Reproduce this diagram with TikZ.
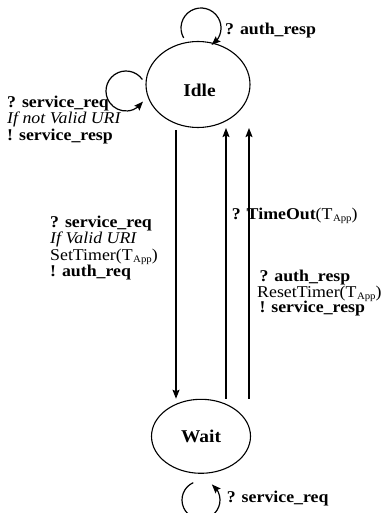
\documentclass[tikz,border=0pt]{standalone}
\usepackage{fontspec}
\setmainfont{Liberation Serif}[FakeStretch=1.08]
\usetikzlibrary{arrows.meta,bending,shapes.geometric}
\newcommand\appsub[1]{\kern0.5pt\raisebox{-2pt}{\fontsize{10}{10}\selectfont #1}}
\begin{document}
\begin{tikzpicture}[x=1pt,y=1pt,
  statenode/.style={draw,ellipse,line width=1.1pt,inner sep=0pt},
  statetext/.style={inner sep=0pt,font=\fontsize{18}{18}\selectfont\bfseries},
  lbl/.style={anchor=base west,inner sep=0pt,font=\fontsize{16.5}{16.5}\selectfont},
  arr/.style={line width=1.2pt,-{Stealth[length=9pt,width=7pt,inset=1.5pt]}},
]
\useasboundingbox (0,0) rectangle (382,-513);
% states
\node[statenode,minimum width=104pt,minimum height=86pt] (idle) at (198,-84.5) {};
\node[statetext] (idlet) at (199.5,-90.5) {Idle};
\node[statenode,minimum width=99pt,minimum height=74pt] (wait) at (201,-436.3) {};
\node[statetext] (waitt) at (wait.center) {Wait};
% transitions between states
\draw[arr] ([shift={(-22,-2)}]idle.south) -- ([xshift=-25]wait.north);
\draw[arr] ([xshift=25]wait.north) -- ([xshift=28]idle.south);
\draw[arr] ([xshift=48]wait.north) -- ([xshift=51]idle.south);
% self loops
\draw[arr] ([shift={(-14.32,46.5)}]idle.center) arc[start angle=210,end angle=-58,radius=20];
\draw[arr] ([shift={(-55.62,4.97)}]idle.center) arc[start angle=35,end angle=328,radius=20];
\draw[arr] ([shift={(-7.73,-46.34)}]wait.center) arc[start angle=114,end angle=415,radius=19];
% labels
\node[lbl] (ltop) at (225,-34.5) {\bfseries ? auth\_resp};
\node[lbl] (la1) at (7,-107.3) {\bfseries ? service\_req};
\node[lbl] (la2) at (7,-124) {\itshape If not Valid URI};
\node[lbl] (la3) at (7,-140.3) {\bfseries ! service\_resp};
\node[lbl] (lb1) at (50,-227.3) {\bfseries ? service\_req};
\node[lbl] (lb2) at (50,-243.3) {\itshape If Valid URI};
\node[lbl] (lb3) at (50,-260) {SetTimer(T\appsub{App})};
\node[lbl] (lb4) at (50,-276) {\bfseries ! auth\_req};
\node[lbl] (lc1) at (231.7,-219) {\textbf{? TimeOut}(T\appsub{App})};
\node[lbl] (ld1) at (259.3,-281.7) {\bfseries ? auth\_resp};
\node[lbl] (ld2) at (257,-297.3) {ResetTimer(T\appsub{App})};
\node[lbl] (ld3) at (259.3,-312.8) {\bfseries ! service\_resp};
\node[lbl] (lbot) at (226.7,-502.3) {\bfseries ? service\_req};
\end{tikzpicture}
\end{document}
